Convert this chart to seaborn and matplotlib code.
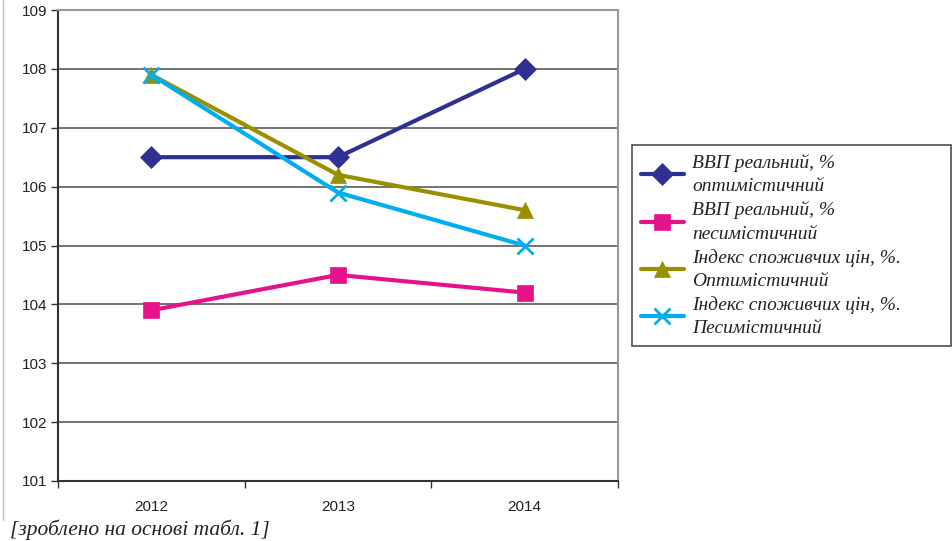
import matplotlib
matplotlib.use("Agg")
import matplotlib.pyplot as plt
from matplotlib.lines import Line2D
import seaborn as sns
import pandas as pd

# Forecast data
years = ["2012", "2013", "2014"]
gdp_optimistic = [106.5, 106.5, 108.0]
gdp_pessimistic = [103.9, 104.5, 104.2]
cpi_optimistic = [107.9, 106.2, 105.6]
cpi_pessimistic = [107.9, 105.9, 105.0]

series_labels = [
    "ВВП реальний, %\nоптимістичний",
    "ВВП реальний, %\nпесимістичний",
    "Індекс споживчих цін, %.\nОптимістичний",
    "Індекс споживчих цін, %.\nПесимістичний",
]
series_values = [gdp_optimistic, gdp_pessimistic, cpi_optimistic, cpi_pessimistic]
colors = ["#2E3192", "#E6128C", "#9A8F00", "#00AEEF"]
markers = ["D", "s", "^", "x"]
marker_sizes = [11, 11, 12, 12]

sns.set_theme(style="white")
plt.rcParams["font.family"] = ["Liberation Sans", "DejaVu Sans"]

fig = plt.figure(figsize=(9.52, 5.41), dpi=100)
ax = fig.add_axes([58 / 952, 60 / 541, 560 / 952, 471 / 541])

for label, vals, col, mk, ms in zip(series_labels, series_values, colors, markers, marker_sizes):
    df = pd.DataFrame({"year": years, "value": vals})
    sns.lineplot(
        data=df, x="year", y="value", ax=ax, color=col, linewidth=3,
        marker=mk, markersize=ms, markeredgecolor=col,
        markeredgewidth=2 if mk == "x" else 0.5,
        label=label, sort=False,
    )

ax.set_xlim(-0.5, 2.5)
ax.set_ylim(101, 109)
ax.set_yticks(range(101, 110))
ax.set_xlabel("")
ax.set_ylabel("")

# horizontal gridlines
for v in range(102, 109):
    ax.axhline(v, color="#4d4d4d", linewidth=1.1, zorder=0)

# category separators as tick marks
ax.set_xticks([0, 1, 2])
ax.set_xticks([-0.5, 0.5, 1.5, 2.5], minor=True)
ax.tick_params(axis="x", which="major", length=0, labelsize=11, pad=14, colors="#222222")
ax.tick_params(axis="x", which="minor", length=5, width=1, color="#333333", direction="out", bottom=True)
ax.tick_params(axis="y", length=5, width=1, color="#333333", direction="out", left=True,
               labelsize=11, pad=3, labelcolor="#222222")

for side in ["left", "bottom"]:
    ax.spines[side].set_color("#333333")
    ax.spines[side].set_linewidth(1.5)
for side in ["top", "right"]:
    ax.spines[side].set_color("#999999")
    ax.spines[side].set_linewidth(1.5)

leg = ax.legend(
    loc="upper left", bbox_to_anchor=(632 / 952, 1 - 344 / 541, 319 / 952, 199 / 541),
    bbox_transform=fig.transFigure, mode="expand", frameon=True, fancybox=False,
    borderaxespad=0, handlelength=2.2, handletextpad=0.45, labelspacing=0.3,
    borderpad=0.45,
    prop={"family": ["Liberation Serif", "DejaVu Serif"], "style": "italic", "size": 14},
)
leg.get_frame().set_edgecolor("#222222")
leg.get_frame().set_linewidth(1.2)
for t in leg.get_texts():
    t.set_color("#222222")
    t.set_linespacing(1.5)

# outer border line on the left
fig.add_artist(Line2D([3 / 952, 3 / 952], [1, 1 - 520 / 541], transform=fig.transFigure,
                      color="#bbbbbb", linewidth=1))

fig.text(10 / 952, 1 - 530 / 541, "[зроблено на основі табл. 1]", ha="left", va="center",
         family=["Liberation Serif", "DejaVu Serif"], style="italic", size=15.5, color="#222222")

fig.savefig("out.png", dpi=100)
